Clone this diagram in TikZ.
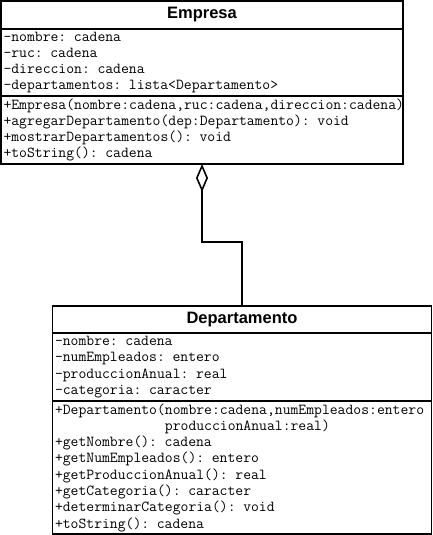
\documentclass[tikz,border=0pt]{standalone}
\usepackage{fontspec}
\newfontfamily\clsfont{Liberation Sans}
\usetikzlibrary{positioning,arrows.meta}

\begin{document}
\begin{tikzpicture}[
  x=1pt, y=-1pt, line width=1.6pt,
  clsname/.style={draw, outer sep=0pt, inner sep=0pt,
                  font=\clsfont\bfseries\fontsize{16.5}{18}\selectfont},
  sect/.style={draw, outer sep=0pt, inner xsep=2.5pt, inner ysep=0pt,
               align=left, font=\ttfamily\fontsize{15.25}{16.3}\selectfont},
  agg/.style={-{Diamond[open, length=28pt, width=12pt]}, line width=1.6pt},
]
\useasboundingbox (0,0) rectangle (432,535);

% class Empresa
\node[clsname, minimum width=402pt, minimum height=28pt] (empname) at (202,15) {Empresa};
\node[sect, below=0pt of empname, text width=397pt, minimum height=67pt] (empattr)
  {-nombre: cadena\\-ruc: cadena\\-direccion: cadena\\-departamentos: lista<Departamento>};
\node[sect, below=0pt of empattr, text width=397pt, minimum height=68pt] (empmeth)
  {+Empresa(nombre:cadena,ruc:cadena,direccion:cadena)\\
   +agregarDepartamento(dep:Departamento): void\\
   +mostrarDepartamentos(): void\\
   +toString(): cadena};

% class Departamento
\node[clsname, minimum width=379pt, minimum height=27pt] (depname) at (242,319.5) {Departamento};
\node[sect, below=0pt of depname, text width=374pt, minimum height=68pt] (depattr)
  {-nombre: cadena\\-numEmpleados: entero\\-produccionAnual: real\\-categoria: caracter};
\node[sect, below=0pt of depattr, text width=374pt, minimum height=133pt] (depmeth)
  {+Departamento(nombre:cadena,numEmpleados:entero\\
   \hphantom{+Departamento(}produccionAnual:real)\\
   +getNombre(): cadena\\
   +getNumEmpleados(): entero\\
   +getProduccionAnual(): real\\
   +getCategoria(): caracter\\
   +determinarCategoria(): void\\
   +toString(): cadena};

% aggregation
\draw[agg] (depname.north) -- ++(0,-64) -| (empmeth.south);
\end{tikzpicture}
\end{document}
